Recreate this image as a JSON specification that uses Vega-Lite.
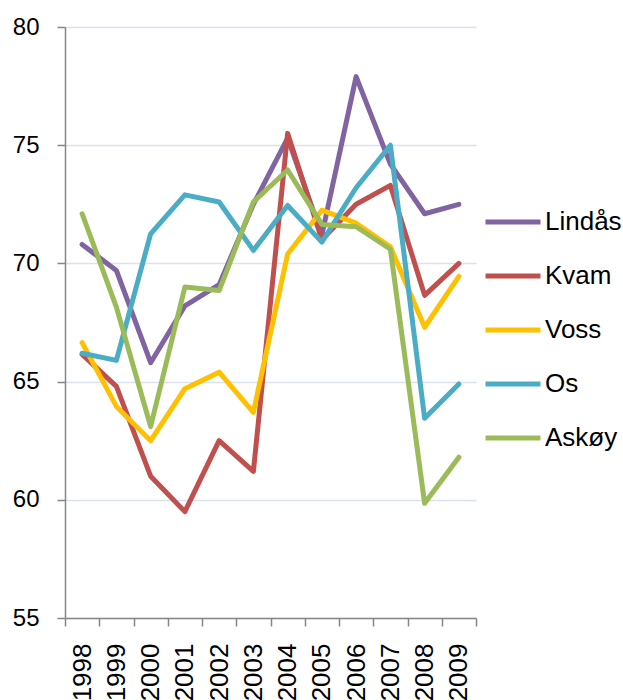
{
  "$schema": "https://vega.github.io/schema/vega-lite/v6.json",
  "autosize": "none",
  "padding": {"left": 65, "top": 27, "right": 147, "bottom": 82},
  "width": 411,
  "height": 591,
  "background": "white",
  "config": {
    "view": {"stroke": null},
    "font": "Liberation Sans"
  },
  "data": {
    "values": [
      {"year": "1998", "kommune": "Lindås", "v": 70.8},
      {"year": "1999", "kommune": "Lindås", "v": 69.7},
      {"year": "2000", "kommune": "Lindås", "v": 65.8},
      {"year": "2001", "kommune": "Lindås", "v": 68.2},
      {"year": "2002", "kommune": "Lindås", "v": 69.1},
      {"year": "2003", "kommune": "Lindås", "v": 72.5},
      {"year": "2004", "kommune": "Lindås", "v": 75.3},
      {"year": "2005", "kommune": "Lindås", "v": 71.2},
      {"year": "2006", "kommune": "Lindås", "v": 77.9},
      {"year": "2007", "kommune": "Lindås", "v": 74.2},
      {"year": "2008", "kommune": "Lindås", "v": 72.1},
      {"year": "2009", "kommune": "Lindås", "v": 72.5},
      {"year": "1998", "kommune": "Kvam", "v": 66.15},
      {"year": "1999", "kommune": "Kvam", "v": 64.8},
      {"year": "2000", "kommune": "Kvam", "v": 61.0},
      {"year": "2001", "kommune": "Kvam", "v": 59.5},
      {"year": "2002", "kommune": "Kvam", "v": 62.5},
      {"year": "2003", "kommune": "Kvam", "v": 61.2},
      {"year": "2004", "kommune": "Kvam", "v": 75.5},
      {"year": "2005", "kommune": "Kvam", "v": 71.0},
      {"year": "2006", "kommune": "Kvam", "v": 72.5},
      {"year": "2007", "kommune": "Kvam", "v": 73.3},
      {"year": "2008", "kommune": "Kvam", "v": 68.65},
      {"year": "2009", "kommune": "Kvam", "v": 70.0},
      {"year": "1998", "kommune": "Voss", "v": 66.65},
      {"year": "1999", "kommune": "Voss", "v": 63.95},
      {"year": "2000", "kommune": "Voss", "v": 62.5},
      {"year": "2001", "kommune": "Voss", "v": 64.7},
      {"year": "2002", "kommune": "Voss", "v": 65.4},
      {"year": "2003", "kommune": "Voss", "v": 63.7},
      {"year": "2004", "kommune": "Voss", "v": 70.4},
      {"year": "2005", "kommune": "Voss", "v": 72.25},
      {"year": "2006", "kommune": "Voss", "v": 71.7},
      {"year": "2007", "kommune": "Voss", "v": 70.7},
      {"year": "2008", "kommune": "Voss", "v": 67.3},
      {"year": "2009", "kommune": "Voss", "v": 69.45},
      {"year": "1998", "kommune": "Os", "v": 66.2},
      {"year": "1999", "kommune": "Os", "v": 65.9},
      {"year": "2000", "kommune": "Os", "v": 71.25},
      {"year": "2001", "kommune": "Os", "v": 72.9},
      {"year": "2002", "kommune": "Os", "v": 72.6},
      {"year": "2003", "kommune": "Os", "v": 70.55},
      {"year": "2004", "kommune": "Os", "v": 72.45},
      {"year": "2005", "kommune": "Os", "v": 70.9},
      {"year": "2006", "kommune": "Os", "v": 73.2},
      {"year": "2007", "kommune": "Os", "v": 75.0},
      {"year": "2008", "kommune": "Os", "v": 63.45},
      {"year": "2009", "kommune": "Os", "v": 64.9},
      {"year": "1998", "kommune": "Askøy", "v": 72.1},
      {"year": "1999", "kommune": "Askøy", "v": 68.15},
      {"year": "2000", "kommune": "Askøy", "v": 63.1},
      {"year": "2001", "kommune": "Askøy", "v": 69.0},
      {"year": "2002", "kommune": "Askøy", "v": 68.85},
      {"year": "2003", "kommune": "Askøy", "v": 72.6},
      {"year": "2004", "kommune": "Askøy", "v": 73.95},
      {"year": "2005", "kommune": "Askøy", "v": 71.65},
      {"year": "2006", "kommune": "Askøy", "v": 71.55},
      {"year": "2007", "kommune": "Askøy", "v": 70.6},
      {"year": "2008", "kommune": "Askøy", "v": 59.85},
      {"year": "2009", "kommune": "Askøy", "v": 61.8}
    ]
  },
  "mark": {"type": "line", "strokeWidth": 5, "strokeJoin": "round", "strokeCap": "round"},
  "encoding": {
    "x": {
      "field": "year",
      "type": "ordinal",
      "scale": {"type": "band", "paddingInner": 0, "paddingOuter": 0},
      "axis": {
        "title": null,
        "labelAngle": -90,
        "labelAlign": "right",
        "labelBaseline": "middle",
        "labelFontSize": 26,
        "labelColor": "black",
        "labelPadding": 17,
        "tickBand": "extent",
        "tickSize": 8,
        "tickColor": "#868686",
        "tickWidth": 1.5,
        "domainColor": "#868686",
        "domainWidth": 1.5,
        "grid": false
      }
    },
    "y": {
      "field": "v",
      "type": "quantitative",
      "scale": {"domain": [55, 80], "nice": false, "zero": false},
      "axis": {
        "title": null,
        "values": [55, 60, 65, 70, 75, 80],
        "labelFontSize": 24,
        "labelColor": "black",
        "labelPadding": 18,
        "tickSize": 8,
        "tickColor": "#868686",
        "tickWidth": 1.5,
        "domainColor": "#868686",
        "domainWidth": 1.5,
        "grid": true,
        "gridColor": "#D9E3F0",
        "gridWidth": 1.5
      }
    },
    "color": {
      "field": "kommune",
      "type": "nominal",
      "scale": {
        "domain": ["Lindås", "Kvam", "Voss", "Os", "Askøy"],
        "range": ["#8064A2", "#C0504D", "#FFC000", "#4BACC6", "#9BBB59"]
      },
      "legend": {
        "title": null,
        "orient": "none",
        "legendX": 418,
        "legendY": 165,
        "padding": 0,
        "symbolType": "stroke",
        "symbolSize": 3025,
        "symbolStrokeWidth": 5,
        "labelFontSize": 26,
        "labelColor": "black",
        "labelOffset": 2,
        "rowPadding": 11
      }
    }
  }
}
